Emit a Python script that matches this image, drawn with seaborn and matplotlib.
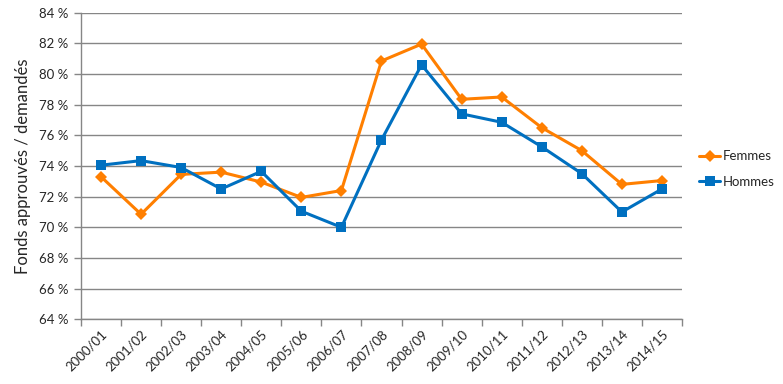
import matplotlib
matplotlib.use("Agg")
import matplotlib.pyplot as plt
import seaborn as sns
import pandas as pd
from matplotlib.ticker import FixedLocator

years = ["2000/01", "2001/02", "2002/03", "2003/04", "2004/05", "2005/06", "2006/07",
         "2007/08", "2008/09", "2009/10", "2010/11", "2011/12", "2012/13", "2013/14", "2014/15"]
femmes = [73.3, 70.85, 73.45, 73.6, 72.95, 71.95, 72.4, 80.85, 81.95, 78.35, 78.5, 76.5, 75.0, 72.8, 73.05]
hommes = [74.05, 74.35, 73.9, 72.5, 73.65, 71.05, 70.0, 75.7, 80.6, 77.4, 76.85, 75.25, 73.5, 71.0, 72.5]
yticks = list(range(64, 85, 2))

df = pd.DataFrame({
    "annee": years * 2,
    "taux": femmes + hommes,
    "sexe": ["Femmes"] * len(years) + ["Hommes"] * len(years),
})

sns.set_theme(style="white")
plt.rcParams["font.family"] = ["Lato", "DejaVu Sans"]

fig = plt.figure(figsize=(7.83, 3.84), dpi=100)
ax = fig.add_axes([0.1034, 0.1685, 0.7676, 0.7985])

sns.lineplot(data=df, x="annee", y="taux", hue="sexe", style="sexe",
             palette={"Femmes": "#FF7F00", "Hommes": "#0070C0"},
             markers={"Femmes": "D", "Hommes": "s"}, dashes=False,
             markersize=7, linewidth=2.2, markeredgewidth=0, ax=ax)
# diamonds a bit smaller than squares
for line in ax.get_lines():
    if line.get_marker() == "D":
        line.set_markersize(6)

ax.set_xlim(-0.5, len(years) - 0.5)
ax.set_ylim(64, 84)
ax.set_yticks(yticks)
ax.set_yticklabels([f"{v} %" for v in yticks], fontsize=9.5)
ax.set_xticks(range(len(years)))
ax.set_xticklabels(years, rotation=45, ha="right", rotation_mode="anchor", fontsize=9.5)
ax.xaxis.set_minor_locator(FixedLocator([i - 0.5 for i in range(len(years) + 1)]))
ax.tick_params(axis="x", which="major", length=0, pad=6)
ax.tick_params(axis="x", which="minor", length=5, color="#868686", width=1, bottom=True)
ax.tick_params(axis="y", length=5, color="#868686", width=1, left=True, pad=4)

ax.yaxis.grid(True, color="#868686", linewidth=1)
ax.set_axisbelow(True)
for side in ["top", "right"]:
    ax.spines[side].set_visible(False)
for side in ["left", "bottom"]:
    ax.spines[side].set_color("#868686")
    ax.spines[side].set_linewidth(1)

ax.set_xlabel("")
ax.set_ylabel("Fonds approuvés / demandés", fontsize=12, labelpad=6)

ax.legend(title=None, frameon=False, loc="center left", bbox_to_anchor=(1.02, 0.49),
          borderaxespad=0, fontsize=9.5, handlelength=1.6, handletextpad=0.2,
          labelspacing=1.0)

fig.savefig("out.png", dpi=100)
